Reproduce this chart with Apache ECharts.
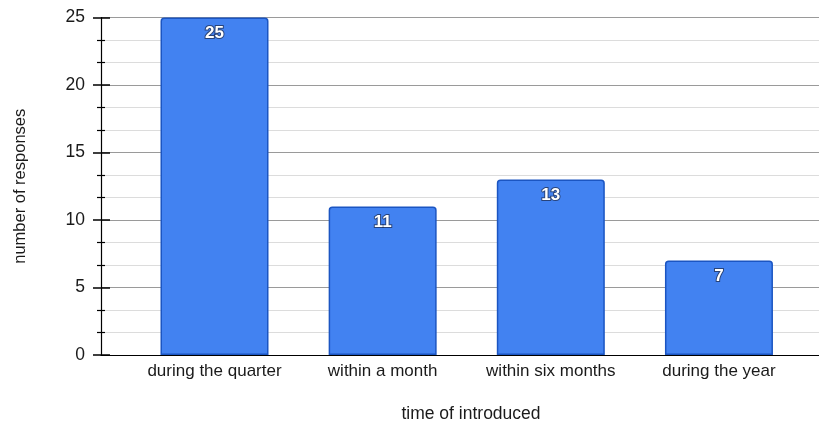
<!DOCTYPE html>
<html>
<head>
<meta charset="utf-8">
<script src="https://cdn.jsdelivr.net/npm/echarts@6/dist/echarts.min.js"></script>
<style>
  html, body { margin: 0; padding: 0; background: #fff; }
  #chart { width: 819px; height: 425px; }
</style>
</head>
<body>
<div id="chart"></div>
<script>
// Survey responses grouped by when the change was introduced
const categories = ['during the quarter', 'within a month', 'within six months', 'during the year'];
const responses = [25, 11, 13, 7];
const yTicks = [0, 5, 10, 15, 20, 25];

const FONT = '"Liberation Sans", Arial, Helvetica, sans-serif';

// Bars sit at x = 0..n-1 on a numeric axis so the plot frame can extend
// past the outer bars unevenly on each side.
const positions = categories.map((_, i) => i);
const barData = responses.map((v, i) => [positions[i], v]);

const chart = echarts.init(document.getElementById('chart'), null, { renderer: 'canvas' });

const yCommon = {
  type: 'value',
  min: yTicks[0],
  max: yTicks[yTicks.length - 1],
  interval: 5,
  position: 'left'
};

chart.setOption({
  animation: false,
  backgroundColor: '#ffffff',
  grid: { left: 101, right: 0, top: 17.5, bottom: 70, containLabel: false, outerBoundsMode: 'none' },
  xAxis: {
    type: 'value',
    min: -0.675,
    max: 3.595,
    name: 'time of introduced',
    nameLocation: 'middle',
    nameGap: 50,
    nameTextStyle: { fontFamily: FONT, fontSize: 17.5, color: '#1a1a1a', padding: [0, 0, 0, 22] },
    axisLine: { show: true, onZero: false, lineStyle: { color: '#000', width: 1.2 } },
    axisTick: { show: false },
    splitLine: { show: false },
    axisLabel: {
      customValues: positions,
      formatter: (v) => categories[Math.round(v)],
      fontFamily: FONT,
      fontSize: 17,
      color: '#1a1a1a',
      margin: 8
    }
  },
  yAxis: [
    Object.assign({}, yCommon, {
      name: 'number of responses',
      nameLocation: 'middle',
      nameGap: 72,
      nameRotate: 90,
      nameTextStyle: { fontFamily: FONT, fontSize: 16.5, color: '#1a1a1a' },
      axisLine: { show: true, onZero: false, lineStyle: { color: '#000', width: 1.2 } },
      axisTick: { show: true, length: 8, lineStyle: { color: '#000', width: 1.5 } },
      minorTick: { show: true, splitNumber: 3, length: 4, lineStyle: { color: '#000', width: 1.2 } },
      axisLabel: { fontFamily: FONT, fontSize: 17.5, color: '#1a1a1a', margin: 16 },
      splitLine: { show: true, lineStyle: { color: '#9a9a9a', width: 1 } },
      minorSplitLine: { show: true, lineStyle: { color: '#dcdcdc', width: 1 } }
    }),
    // companion axis drawing the inner half of each tick mark
    Object.assign({}, yCommon, {
      axisLine: { show: false, onZero: false },
      axisTick: { show: true, inside: true, length: 9, lineStyle: { color: '#000', width: 1.5 } },
      minorTick: { show: true, splitNumber: 3, length: 4, lineStyle: { color: '#000', width: 1.2 } },
      axisLabel: { show: false },
      splitLine: { show: false },
      minorSplitLine: { show: false }
    })
  ],
  series: [{
    type: 'bar',
    data: barData,
    barWidth: 108,
    itemStyle: {
      color: '#4282f1',
      borderColor: '#1b55c2',
      borderWidth: 1.5,
      borderRadius: [3, 3, 0, 0]
    },
    label: {
      show: true,
      position: 'insideTop',
      distance: 7,
      formatter: (p) => String(p.value[1]),
      fontFamily: FONT,
      fontSize: 17,
      fontWeight: 'bold',
      color: '#ffffff',
      textBorderColor: 'rgba(30,40,70,0.7)',
      textBorderWidth: 2
    }
  }]
});
</script>
</body>
</html>
